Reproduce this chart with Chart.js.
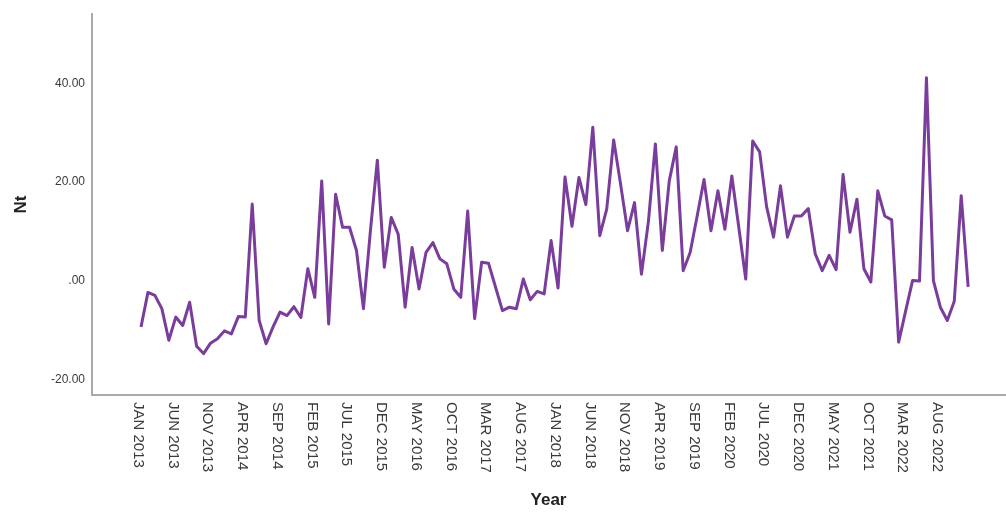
<!DOCTYPE html>
<html>
<head>
<meta charset="utf-8">
<title>Nt by Year</title>
<script src="https://cdn.jsdelivr.net/npm/chart.js@4.4.1/dist/chart.umd.min.js"></script>
<style>
  html, body { margin: 0; padding: 0; background: #fff; }
  #ntChart { display: block; }
</style>
</head>
<body>
<canvas id="ntChart" width="1006" height="513"></canvas>
<script>
// monthly Nt, JAN 2013 .. DEC 2022
const ntValues = [
    -9.4, -2.4, -3.0, -5.7, -12.1, -7.4, -9.1, -4.4, -13.3, -14.8, -12.7, -11.8,
    -10.2, -10.8, -7.3, -7.4, 15.5, -8.1, -12.8, -9.4, -6.4, -7.1, -5.3, -7.5,
    2.4, -3.4, 20.2, -8.8, 17.5, 10.8, 10.8, 6.1, -5.7, 10.0, 24.4, 2.7,
    12.8, 9.4, -5.4, 6.7, -1.7, 5.7, 7.7, 4.4, 3.4, -1.7, -3.4, 14.1,
    -7.7, 3.7, 3.5, -1.3, -6.1, -5.4, -5.7, 0.3, -3.9, -2.2, -2.7, 8.1,
    -1.5, 21.0, 11.0, 20.9, 15.4, 31.1, 9.1, 14.5, 28.5, 19.5, 10.1, 15.8,
    1.3, 12.0, 27.7, 6.1, 20.2, 27.1, 2.0, 5.7, 13.0, 20.5, 10.1, 18.2,
    10.4, 21.2, 10.8, 0.3, 28.3, 26.1, 15.0, 8.8, 19.2, 8.8, 13.1, 13.1,
    14.6, 5.4, 2.0, 5.1, 2.2, 21.5, 9.8, 16.5, 2.4, -0.3, 18.2, 13.1,
    12.3, -12.5, -6.2, 0.0, -0.1, 41.1, 0.0, -5.4, -8.1, -4.2, 17.2, -1.3
];

// one label every 5 months, starting at month index 0
const xTickLabels = [
    'JAN 2013', 'JUN 2013', 'NOV 2013', 'APR 2014', 'SEP 2014', 'FEB 2015',
    'JUL 2015', 'DEC 2015', 'MAY 2016', 'OCT 2016', 'MAR 2017', 'AUG 2017',
    'JAN 2018', 'JUN 2018', 'NOV 2018', 'APR 2019', 'SEP 2019', 'FEB 2020',
    'JUL 2020', 'DEC 2020', 'MAY 2021', 'OCT 2021', 'MAR 2022', 'AUG 2022'
];
const xTickStep = 5;

const yTicks = [-20, 0, 20, 40];

const lineColor = '#7a3d9c';
const axisColor = '#a9a9a9';
const textColor = '#3a3a3a';

// x labels read top-to-bottom, so they are drawn here instead of by the scale
const verticalLabels = {
    id: 'verticalLabels',
    afterDraw(chart) {
        const xs = chart.scales.x;
        const ctx = chart.ctx;
        ctx.save();
        ctx.font = '15px "Liberation Sans", Arial, sans-serif';
        ctx.fillStyle = textColor;
        ctx.textAlign = 'left';
        ctx.textBaseline = 'middle';
        xTickLabels.forEach((lbl, i) => {
            const px = xs.getPixelForValue(i * xTickStep) - 3;
            ctx.save();
            ctx.translate(px, xs.top + 7);
            ctx.rotate(Math.PI / 2);
            ctx.fillText(lbl, 0, 0);
            ctx.restore();
        });
        ctx.restore();
    }
};

const ctx = document.getElementById('ntChart');

new Chart(ctx, {
    type: 'line',
    data: {
        datasets: [{
            label: 'Nt',
            data: ntValues.map((v, i) => ({ x: i, y: v })),
            borderColor: lineColor,
            borderWidth: 3,
            borderJoinStyle: 'round',
            pointRadius: 0,
            tension: 0,
            fill: false
        }]
    },
    options: {
        responsive: false,
        animation: false,
        devicePixelRatio: 1,
        layout: { padding: { top: 12, right: 1, left: 0, bottom: 0 } },
        plugins: {
            legend: { display: false },
            tooltip: { enabled: false }
        },
        scales: {
            x: {
                type: 'linear',
                min: -7.05,
                max: 124.3,
                grid: { display: false },
                border: { display: true, color: axisColor, width: 2 },
                ticks: { display: false },
                afterBuildTicks: (s) => {
                    s.ticks = xTickLabels.map((_, i) => ({ value: i * xTickStep }));
                },
                afterFit: (s) => { s.height = 118; },
                title: {
                    display: true,
                    text: 'Year',
                    color: '#222',
                    font: { family: '"Liberation Sans", Arial, sans-serif', size: 17, weight: 'bold' },
                    padding: { top: 0, bottom: 2 }
                }
            },
            y: {
                min: -23.2,
                max: 54,
                grid: { display: false, drawTicks: false },
                border: { display: true, color: axisColor, width: 2 },
                afterBuildTicks: (s) => {
                    s.ticks = yTicks.map(v => ({ value: v }));
                },
                afterFit: (s) => { s.width = 92; },
                ticks: {
                    padding: 7,
                    color: textColor,
                    font: { family: '"Liberation Sans", Arial, sans-serif', size: 12 },
                    callback: (v) => v === 0 ? '.00' : v.toFixed(2)
                },
                title: {
                    display: true,
                    text: 'Nt',
                    color: '#222',
                    font: { family: '"Liberation Sans", Arial, sans-serif', size: 17, weight: 'bold' },
                    padding: { top: 11, bottom: 0 }
                }
            }
        }
    },
    plugins: [verticalLabels]
});
</script>
</body>
</html>
